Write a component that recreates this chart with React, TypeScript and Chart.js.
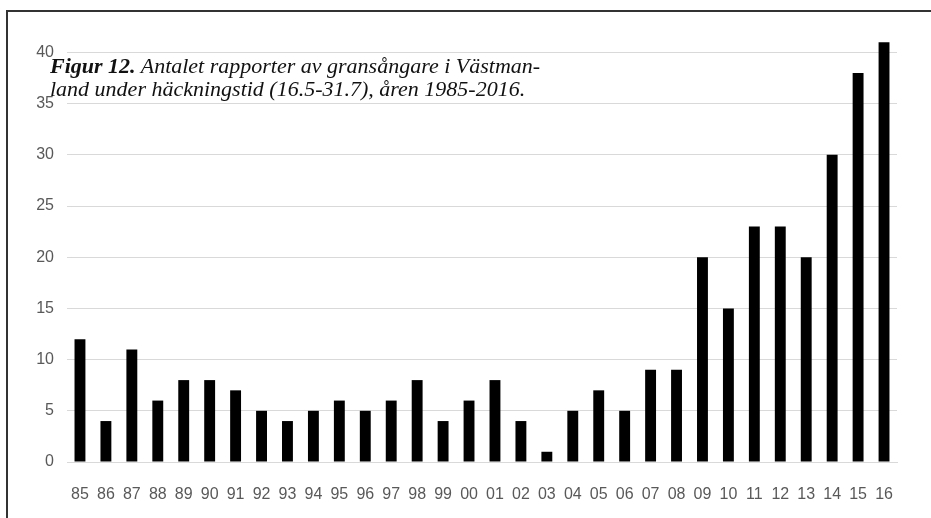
import React, { useEffect, useRef } from "react";
import { Chart, registerables } from "chart.js";

Chart.register(...registerables);

const years = ["85","86","87","88","89","90","91","92","93","94","95","96","97","98","99","00","01","02","03","04","05","06","07","08","09","10","11","12","13","14","15","16"];
const reports = [12,4,11,6,8,8,7,5,4,5,6,5,6,8,4,6,8,4,1,5,7,5,9,9,20,15,23,23,20,30,38,41];
const yTickStep = 5;

export default function App() {
  const ref = useRef<HTMLCanvasElement | null>(null);

  useEffect(() => {
    document.body.style.margin = "0";
    const canvas = ref.current;
    if (!canvas) return;
    const chart = new Chart(canvas, {
      type: "bar",
      data: {
        labels: years,
        datasets: [
          {
            data: reports,
            backgroundColor: "#000000",
            borderWidth: 0,
            barPercentage: 0.42,
            categoryPercentage: 1,
          },
        ],
      },
      options: {
        animation: false,
        responsive: false,
        layout: { padding: { top: 32, right: 34, bottom: 0, left: 0 } },
        plugins: { legend: { display: false }, tooltip: { enabled: false }, title: { display: false } },
        scales: {
          x: {
            grid: { display: false, drawTicks: false },
            border: { display: true, color: "#d9d9d9", width: 1 },
            ticks: {
              color: "#595959",
              font: { family: "Liberation Sans", size: 16 },
              padding: 23,
              maxRotation: 0,
              autoSkip: false,
            },
            afterFit: (s: any) => { s.height = 56; },
          },
          y: {
            min: 0,
            max: 42,
            grid: { color: "#d9d9d9", lineWidth: 1, drawTicks: false },
            border: { display: false },
            ticks: {
              stepSize: yTickStep,
              color: "#595959",
              font: { family: "Liberation Sans", size: 16 },
              padding: 13,
            },
            afterBuildTicks: (s: any) => {
              s.ticks = s.ticks.filter((t: any) => t.value % yTickStep === 0);
            },
            afterFit: (s: any) => { s.width = 67; },
          },
        },
      },
    });
    return () => chart.destroy();
  }, []);

  return (
    <div style={{ position: "relative", width: 931, height: 518, background: "#fff", overflow: "hidden" }}>
      <canvas ref={ref} width={931} height={518} style={{ position: "absolute", left: 0, top: 0 }} />
      <div style={{ position: "absolute", left: 6, top: 10, width: 940, height: 520, borderTop: "2px solid #333", borderLeft: "2px solid #333", boxSizing: "border-box" }} />
      <div
        style={{
          position: "absolute",
          left: 50,
          top: 54,
          fontFamily: "'Liberation Serif', 'Times New Roman', serif",
          fontStyle: "italic",
          fontSize: 22,
          lineHeight: "23px",
          color: "#111",
          whiteSpace: "nowrap",
        }}
      >
        <b>Figur 12.</b> Antalet rapporter av gransångare i Västman-
        <br />
        land under häckningstid (16.5-31.7), åren 1985-2016.
      </div>
    </div>
  );
}
